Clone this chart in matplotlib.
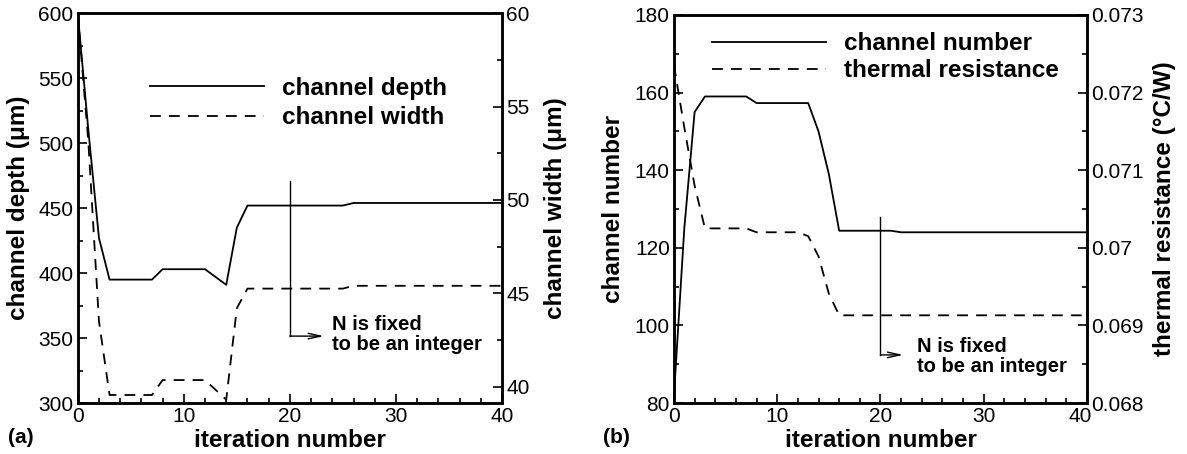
import matplotlib
matplotlib.use("Agg")
import matplotlib.pyplot as plt
from matplotlib.ticker import MultipleLocator, FuncFormatter
from matplotlib.transforms import ScaledTranslation

plt.rcParams['font.family'] = ['Liberation Sans', 'DejaVu Sans']

# (a) channel depth / width vs iteration
depth_iter = [0, 1, 2, 3, 7, 8, 12, 14, 15, 16, 25, 26, 40]
depth_um = [600, 510, 427, 395, 395, 403, 403, 391, 435, 452, 452, 454, 454]
width_iter = [0, 1, 2, 3, 7, 8, 12, 14, 15, 16, 25, 26, 40]
width_um = [60, 53.1, 43.5, 39.55, 39.55, 40.35, 40.35, 39.3, 44.2, 45.25, 45.25, 45.4, 45.4]

# (b) channel number / thermal resistance vs iteration
num_iter = [0, 1, 2, 3, 7, 8, 13, 14, 15, 16, 21, 22, 40]
channel_num = [82, 125, 155, 159, 159, 157.3, 157.3, 150, 139, 124.4, 124.4, 124, 124]
res_iter = [0, 1, 2, 3, 7, 8, 12, 13, 14, 15, 16, 40]
thermal_res = [0.07235, 0.07155, 0.0708, 0.07025, 0.07025, 0.0702, 0.0702, 0.07015,
               0.06989, 0.06941, 0.06913, 0.06913]

note = "N is fixed\nto be an integer"
LW = 1.3
DASH = (0, (6, 4.5))
LBL = dict(fontsize=17.5, fontweight='bold')


def style(ax, left=True):
    for s in ax.spines.values():
        s.set_linewidth(1.8)
    ax.tick_params(which='both', direction='in', labelsize=15, width=1.2,
                   top=False, right=not left, left=left, pad=3)
    ax.tick_params(which='major', length=6.5)
    ax.tick_params(which='minor', length=3.6)


fig = plt.figure(figsize=(11.87, 4.54), dpi=100)
axA = fig.add_axes([0.0655, 0.1123, 0.3574, 0.8584])
axB = fig.add_axes([0.5678, 0.1123, 0.3479, 0.8547])

# ---- panel (a)
axA2 = axA.twinx()
lA1, = axA.plot(depth_iter, depth_um, 'k-', lw=LW, label='channel depth')
lA2, = axA2.plot(width_iter, width_um, color='k', ls=DASH, lw=LW, label='channel width')
axA.set_xlim(0, 40)
axA.set_ylim(300, 600)
axA2.set_ylim(39.12, 60)
axA.xaxis.set_major_locator(MultipleLocator(10))
axA.xaxis.set_minor_locator(MultipleLocator(2))
axA.yaxis.set_major_locator(MultipleLocator(50))
axA.yaxis.set_minor_locator(MultipleLocator(25))
axA2.yaxis.set_major_locator(MultipleLocator(5))
axA2.yaxis.set_minor_locator(MultipleLocator(2.5))
style(axA, True)
style(axA2, False)
axA.set_xlabel('iteration number', **LBL)
axA.set_ylabel('channel depth (μm)', **LBL)
axA2.set_ylabel('channel width (μm)', rotation=90, **LBL)
axA.xaxis.set_label_coords(0.5, -0.066)
axA.yaxis.set_label_coords(-0.112, 0.5)
axA2.yaxis.set_label_coords(1.099, 0.5)

axA.plot([20, 20], [471, 351.5], 'k-', lw=1.0)
axA.annotate('', xy=(23.2, 351.5), xytext=(20, 351.5),
             arrowprops=dict(arrowstyle='->,head_length=0.9,head_width=0.2', lw=1.0, color='k',
                             shrinkA=0, shrinkB=0))
axA.text(24, 352.5, note, fontsize=14.5, fontweight='bold', va='center', ha='left',
         linespacing=1.05)
axA.legend(handles=[lA1, lA2], loc='upper left', bbox_to_anchor=(0.17, 0.837),
           frameon=False, prop=dict(weight='bold', size=17.5),
           handlelength=4.7, handletextpad=0.75, labelspacing=0.27,
           borderpad=0, borderaxespad=0)

# ---- panel (b)
axB2 = axB.twinx()
lB1, = axB.plot(num_iter, channel_num, 'k-', lw=LW, label='channel number')
lB2, = axB2.plot(res_iter, thermal_res, color='k', ls=DASH, lw=LW, label='thermal resistance')
axB.set_xlim(0, 40)
axB.set_ylim(80, 180)
axB2.set_ylim(0.068, 0.073)
axB.xaxis.set_major_locator(MultipleLocator(10))
axB.xaxis.set_minor_locator(MultipleLocator(2))
axB.yaxis.set_major_locator(MultipleLocator(20))
axB.yaxis.set_minor_locator(MultipleLocator(10))
axB2.yaxis.set_major_locator(MultipleLocator(0.001))
axB2.yaxis.set_minor_locator(MultipleLocator(0.0005))
axB2.yaxis.set_major_formatter(FuncFormatter(lambda v, p: f"{round(v, 4):g}"))
style(axB, True)
style(axB2, False)
axB.set_xlabel('iteration number', **LBL)
axB.set_ylabel('channel number', **LBL)
axB2.set_ylabel('thermal resistance (°C/W)', rotation=90, **LBL)
axB.xaxis.set_label_coords(0.5, -0.066)
axB.yaxis.set_label_coords(-0.119, 0.5)
axB2.yaxis.set_label_coords(1.160, 0.5)

axB.plot([20, 20], [128, 92.4], 'k-', lw=1.0)
axB.annotate('', xy=(22.2, 92.4), xytext=(20, 92.4),
             arrowprops=dict(arrowstyle='->,head_length=0.9,head_width=0.2', lw=1.0, color='k',
                             shrinkA=0, shrinkB=0))
axB.text(23.5, 92, note, fontsize=14.5, fontweight='bold', va='center', ha='left',
         linespacing=1.05)
axB.legend(handles=[lB1, lB2], loc='upper left', bbox_to_anchor=(0.091, 0.955),
           frameon=False, prop=dict(weight='bold', size=17.5),
           handlelength=4.7, handletextpad=0.75, labelspacing=0.15,
           borderpad=0, borderaxespad=0)

fig.text(0.007, 0.037, '(a)', fontsize=15, fontweight='bold', va='center')
fig.text(0.508, 0.037, '(b)', fontsize=15, fontweight='bold', va='center')

# nudge the last x tick label of (b) left so it clears "0.068", as in the original
fig.canvas.draw()
last = [t for t in axB.xaxis.get_major_ticks() if abs(t.get_loc() - 40) < 1e-6][0]
last.label1.set_transform(last.label1.get_transform()
                          + ScaledTranslation(-0.07, 0, fig.dpi_scale_trans))

fig.savefig('out.png', dpi=100)
